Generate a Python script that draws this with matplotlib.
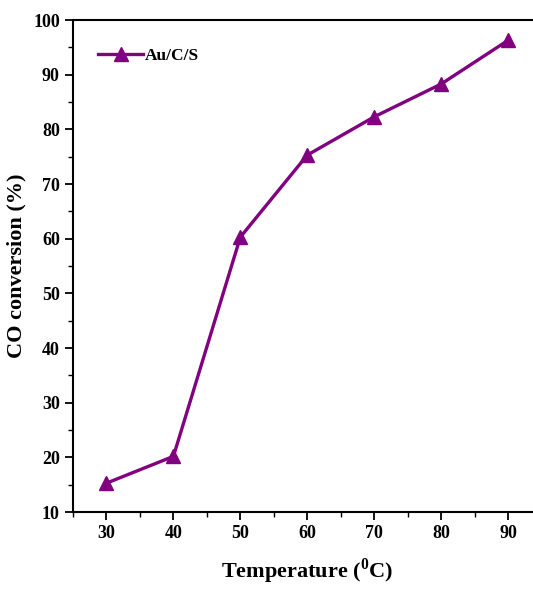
import numpy as np
import matplotlib
matplotlib.use('Agg')
import matplotlib.pyplot as plt
from matplotlib.ticker import MultipleLocator

# Datos
temperatura = [30, 40, 50, 60, 70, 80, 90]
conversion = [15.3, 20.2, 60.3, 75.3, 82.3, 88.3, 96.3]
etiqueta = 'Au/C/S'

plt.rcParams['font.family'] = 'Liberation Serif'
plt.rcParams['font.weight'] = 'bold'
plt.rcParams['mathtext.fontset'] = 'custom'
plt.rcParams['mathtext.rm'] = 'Liberation Serif:bold'
plt.rcParams['mathtext.bf'] = 'Liberation Serif:bold'

color = '#800080'

fig = plt.figure(figsize=(5.33, 5.90), dpi=100)
ax = fig.add_axes([0.137, 0.132, 0.879, 0.834])

ax.plot(temperatura, conversion, color=color, lw=2.4, marker='^',
        markersize=10, label=etiqueta)

ax.set_xlim(25, 95)
ax.set_ylim(10, 100)
ax.xaxis.set_major_locator(MultipleLocator(10))
ax.xaxis.set_minor_locator(MultipleLocator(5))
ax.yaxis.set_major_locator(MultipleLocator(10))
ax.yaxis.set_minor_locator(MultipleLocator(5))
ax.tick_params(which='major', direction='out', length=6, width=1.3, labelsize=13)
ax.tick_params(which='minor', direction='out', length=3.5, width=1.0)
for s in ax.spines.values():
    s.set_linewidth(1.5)

ax.set_xlabel(r'Temperature ($^{0}$C)', fontsize=16, fontweight='bold', labelpad=10)
ax.set_ylabel('CO conversion (%)', fontsize=16, fontweight='bold', labelpad=5)

leg = ax.legend(loc='upper left', frameon=False, fontsize=12.5,
                handlelength=2.6, handletextpad=0.1,
                bbox_to_anchor=(0.02, 0.975))

plt.savefig('out.png', dpi=100)
